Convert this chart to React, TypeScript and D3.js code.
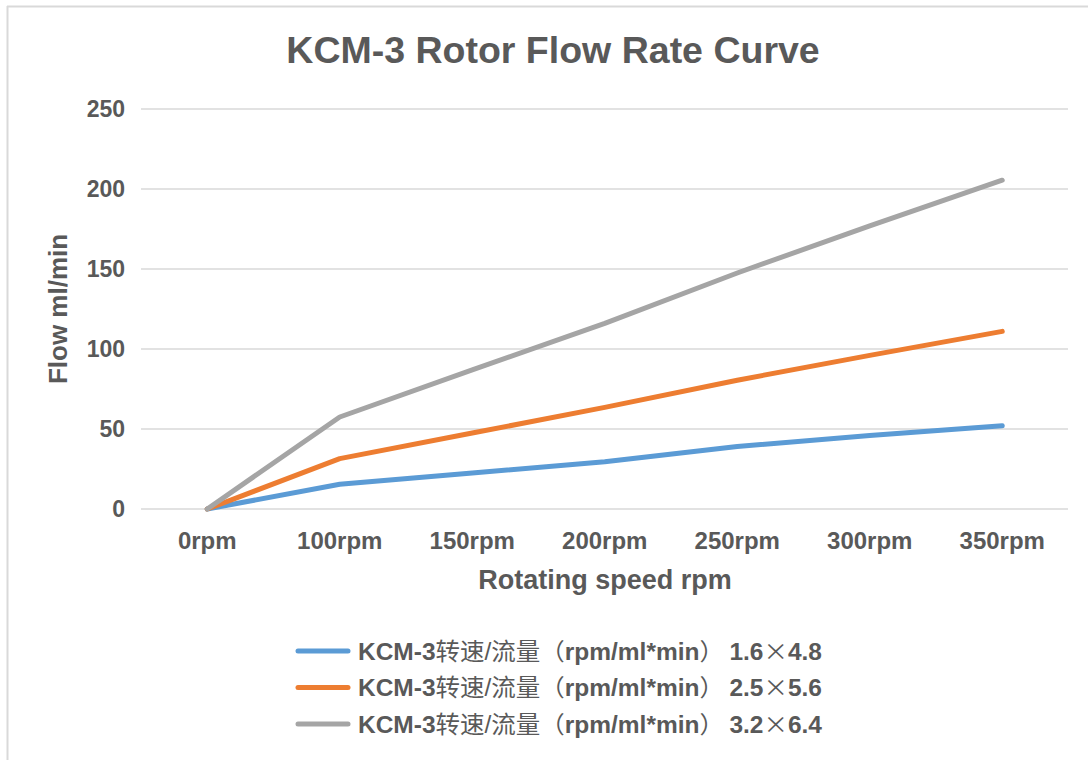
import * as d3 from 'd3';

const categories = ['0rpm', '100rpm', '150rpm', '200rpm', '250rpm', '300rpm', '350rpm'];
const yTicks = [0, 50, 100, 150, 200, 250];
const seriesNames = ['1.6×4.8', '2.5×5.6', '3.2×6.4'];
const seriesColors = ['#5B9BD5', '#ED7D31', '#A5A5A5'];
const flow16 = [0, 15.5, 22.5, 29.5, 39, 46, 52];
const flow25 = [0, 31.5, 47.5, 63.5, 80.5, 96, 111];
const flow32 = [0, 57.5, 87, 116, 147.5, 177, 205.5];

const seriesValues = [flow16, flow25, flow32];

const W = 1088;
const H = 760;
const textColor = '#595959';
const gridColor = '#D9D9D9';
const latin = '"Liberation Sans", Arial, sans-serif';
const cjk = '"Noto Sans CJK SC", sans-serif';

export default function App() {
  const x = d3.scaleBand<string>().domain(categories).range([141, 1068.5]).padding(0);
  const y = d3.scaleLinear().domain([0, 250]).range([509, 109]);
  const cx = (c: string) => (x(c) ?? 0) + x.bandwidth() / 2;

  const line = d3
    .line<number>()
    .x((_, i) => cx(categories[i]))
    .y((d) => y(d));

  return (
    <div style={{ position: 'fixed', left: 0, top: 0, width: W, height: H, background: '#fff' }}>
      <svg width={W} height={H} style={{ display: 'block' }}>
        {/* frame */}
        <line x1={7} y1={6.5} x2={W} y2={6.5} stroke={gridColor} strokeWidth={2} />
        <line x1={7.5} y1={6} x2={7.5} y2={H} stroke={gridColor} strokeWidth={2} />

        <text
          x={553}
          y={63}
          textAnchor="middle"
          fontFamily={latin}
          fontWeight="bold"
          fontSize={37.5}
          fill={textColor}
        >
          KCM-3 Rotor Flow Rate Curve
        </text>

        {/* grid + y ticks */}
        {yTicks.map((t) => (
          <g key={t}>
            <line x1={141} x2={1068} y1={y(t)} y2={y(t)} stroke={gridColor} strokeWidth={1.5} />
            <text
              x={125}
              y={y(t)}
              dy="0.35em"
              textAnchor="end"
              fontFamily={latin}
              fontWeight="bold"
              fontSize={23}
              fill={textColor}
            >
              {t}
            </text>
          </g>
        ))}

        {/* x ticks */}
        {categories.map((c) => (
          <text
            key={c}
            x={cx(c)}
            y={549}
            textAnchor="middle"
            fontFamily={latin}
            fontWeight="bold"
            fontSize={24}
            fill={textColor}
          >
            {c}
          </text>
        ))}

        <text
          x={605}
          y={589}
          textAnchor="middle"
          fontFamily={latin}
          fontWeight="bold"
          fontSize={27}
          fill={textColor}
        >
          Rotating speed rpm
        </text>

        <text
          transform="translate(67,309) rotate(-90)"
          textAnchor="middle"
          fontFamily={latin}
          fontWeight="bold"
          fontSize={26}
          fill={textColor}
        >
          Flow ml/min
        </text>

        {/* series */}
        {seriesValues.map((vals, i) => (
          <path
            key={i}
            d={line(vals) ?? ''}
            fill="none"
            stroke={seriesColors[i]}
            strokeWidth={5}
            strokeLinecap="round"
            strokeLinejoin="round"
          />
        ))}

        {/* legend */}
        {seriesNames.map((name, i) => {
          const ly = 651 + i * 36.5;
          const [a, b] = name.split('×');
          return (
            <g key={name}>
              <line
                x1={298}
                x2={348}
                y1={ly}
                y2={ly}
                stroke={seriesColors[i]}
                strokeWidth={5}
                strokeLinecap="round"
              />
              <text
                x={358}
                y={ly + 8.5}
                fontSize={23.5}
                fill={textColor}
                fontFamily={latin}
                textLength={464}
                lengthAdjust="spacingAndGlyphs"
                style={{ whiteSpace: 'pre' }}
              >
                <tspan fontWeight="bold">KCM-3</tspan>
                <tspan fontFamily={cjk}>转速</tspan>
                <tspan>/</tspan>
                <tspan fontFamily={cjk}>流量（</tspan>
                <tspan fontWeight="bold">rpm/ml*min</tspan>
                <tspan fontFamily={cjk}>） </tspan>
                <tspan fontWeight="bold">{a}</tspan>
                <tspan fontFamily={cjk}>×</tspan>
                <tspan fontWeight="bold">{b}</tspan>
              </text>
            </g>
          );
        })}
      </svg>
    </div>
  );
}
